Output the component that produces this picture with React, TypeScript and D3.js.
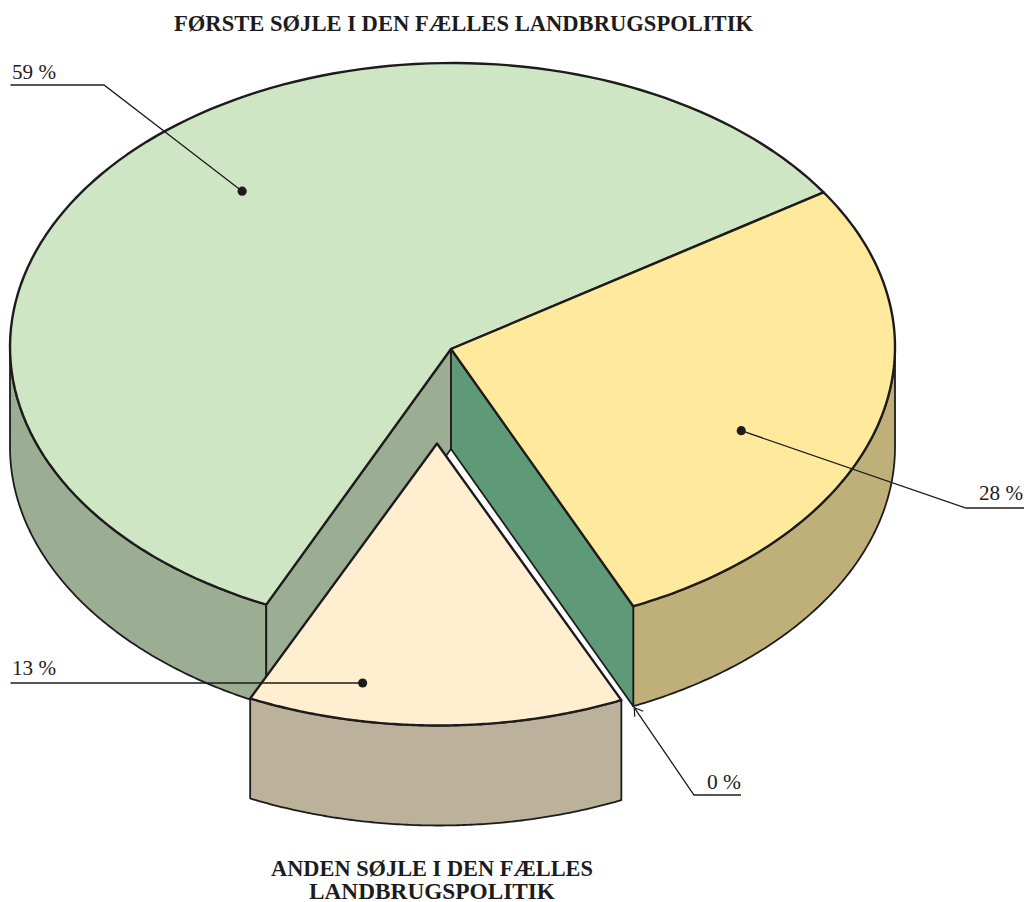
import React from "react";
import * as d3 from "d3";

const sliceNames = ["yellow", "zero", "cream", "green"];
const labelValues = [28, 0, 13, 59];
// angular shares as drawn in the drawing (slightly different from the printed labels)
const drawnShares = [27.47, 0, 13.61, 58.92];
const startDeg = 57;

const titleTop = "FØRSTE SØJLE I DEN FÆLLES LANDBRUGSPOLITIK";
const titleBottom = ["ANDEN SØJLE I DEN FÆLLES", "LANDBRUGSPOLITIK"];

const ink = "#1e1b1d";
const fontFamily = "'Liberation Serif', serif";
const topColor: Record<string, string> = { yellow: "#ffe99d", cream: "#ffeecf", green: "#cfe6c4" };
const wallColor = { yellow: "#bfb07a", cream: "#bcb19b", green: "#9bae94", teal: "#5f9a78" };

// ellipse of the top face and the wedge apex (the apex sits a little below the ellipse centre)
const cx = 452.5, cy = 347, rx = 442.5, ry = 284, depth = 100;
const apex: [number, number] = [451, 349];
const shift: [number, number] = [-14, 94.5];
const creamPad = (0.3 * Math.PI) / 180;

const rad = (d: number) => (d * Math.PI) / 180;
type P = [number, number];
const proj = (ox: number, oy: number, a: number, r = 1): P => [
  ox + rx * r * Math.sin(a),
  oy - ry * r * Math.cos(a),
];
const line = d3.line<P>().curve(d3.curveLinear);
const arcPts = (ox: number, oy: number, a0: number, a1: number): P[] =>
  d3.range(0, 121).map((i) => proj(ox, oy, a0 + ((a1 - a0) * i) / 120));

const pie = d3
  .pie<number>()
  .sort(null)
  .value((d) => d)
  .startAngle(rad(startDeg))
  .endAngle(rad(startDeg + 360));
const arcs = pie(drawnShares);
const arcOf = (name: string) => arcs[sliceNames.indexOf(name)];
const yellow = arcOf("yellow"), cream = arcOf("cream"), green = arcOf("green");

const ex = cx + shift[0], ey = cy + shift[1];
const exApex: P = [apex[0] + shift[0], apex[1] + shift[1]];

function wedge(ap: P, ox: number, oy: number, a0: number, a1: number) {
  return line([ap, ...arcPts(ox, oy, a0, a1)])! + "Z";
}
function wall(ox: number, oy: number, a0: number, a1: number) {
  const t = arcPts(ox, oy, a0, a1);
  const b = t.map(([x, y]) => [x, y + depth] as P).reverse();
  return line([...t, ...b])! + "Z";
}
function face(a: number) {
  const o = proj(cx, cy, a);
  return line([apex, [apex[0], apex[1] + depth], [o[0], o[1] + depth], o])! + "Z";
}

const valueOf = (n: string) => labelValues[sliceNames.indexOf(n)];
const dots = [
  { value: valueOf("green"), p: proj(cx, cy, rad(319.1), 0.726), elbow: [104, 85] as P, end: [10.5, 85] as P, tx: 12, ty: 79 },
  { value: valueOf("yellow"), p: proj(cx, cy, rad(114.3), 0.716), elbow: [966, 508] as P, end: [1024, 508] as P, tx: 979, ty: 500 },
  { value: valueOf("cream"), p: proj(ex, ey, rad(191.4), 0.8675), elbow: [300, 683] as P, end: [10.5, 683] as P, tx: 12, ty: 675 },
];

const zeroTip = proj(cx, cy, arcOf("zero").startAngle);
const tip: P = [zeroTip[0] + 1, zeroTip[1] + depth + 1.5];

const labelStyle = { fontFamily, fontSize: 22, fill: ink } as const;
const titleStyle = { fontFamily, fontSize: 23, fontWeight: 700, fill: ink } as const;

export default function App() {
  return (
    <svg
      width={1026}
      height={902}
      viewBox="0 0 1026 902"
      style={{ position: "absolute", left: 0, top: 0, display: "block", background: "#fff" }}
    >
      <text x={174} y={31} textLength={579} lengthAdjust="spacingAndGlyphs" style={titleStyle}>
        {titleTop}
      </text>

      {/* main pie walls */}
      <g stroke={ink} strokeWidth={1.8} strokeLinejoin="round">
        <path d={wall(cx, cy, green.startAngle, rad(270))} fill={wallColor.green} />
        <path d={wall(cx, cy, rad(90), yellow.endAngle)} fill={wallColor.yellow} />
        <path d={face(green.startAngle)} fill={wallColor.green} />
        <path d={face(yellow.endAngle)} fill={wallColor.teal} />
      </g>

      {/* main pie top */}
      <g stroke={ink} strokeWidth={2.4} strokeLinejoin="round">
        <path d={wedge(apex, cx, cy, green.startAngle, green.endAngle)} fill={topColor.green} />
        <path d={wedge(apex, cx, cy, yellow.startAngle, yellow.endAngle)} fill={topColor.yellow} />
      </g>

      {/* exploded slice */}
      <g stroke={ink} strokeLinejoin="round">
        <path d={wall(ex, ey, cream.startAngle - creamPad, cream.endAngle + creamPad)} fill={wallColor.cream} strokeWidth={1.8} />
        <path d={wedge(exApex, ex, ey, cream.startAngle - creamPad, cream.endAngle + creamPad)} fill={topColor.cream} strokeWidth={2.4} />
      </g>

      {/* leaders */}
      {dots.map((d) => (
        <g key={d.value}>
          <path d={line([d.p, d.elbow, d.end])!} fill="none" stroke={ink} strokeWidth={1.3} />
          <circle cx={d.p[0]} cy={d.p[1]} r={4.6} fill={ink} />
          <text x={d.tx} y={d.ty} textLength={44} lengthAdjust="spacingAndGlyphs" style={labelStyle}>{`${d.value} %`}</text>
        </g>
      ))}

      {/* 0 % leader with open arrow head */}
      <path d={line([tip, [694, 795], [741, 795]])!} fill="none" stroke={ink} strokeWidth={1.3} />
      <path d={line([[tip[0] + 0.5, tip[1] + 9], tip, [tip[0] + 9, tip[1] + 3.5]])!} fill="none" stroke={ink} strokeWidth={1.2} />
      <text x={707} y={789} textLength={34} lengthAdjust="spacingAndGlyphs" style={labelStyle}>{`${valueOf("zero")} %`}</text>

      <text x={271} y={875.5} textLength={322} lengthAdjust="spacingAndGlyphs" style={titleStyle}>
        {titleBottom[0]}
      </text>
      <text x={309} y={899} textLength={246} lengthAdjust="spacingAndGlyphs" style={titleStyle}>
        {titleBottom[1]}
      </text>
    </svg>
  );
}
